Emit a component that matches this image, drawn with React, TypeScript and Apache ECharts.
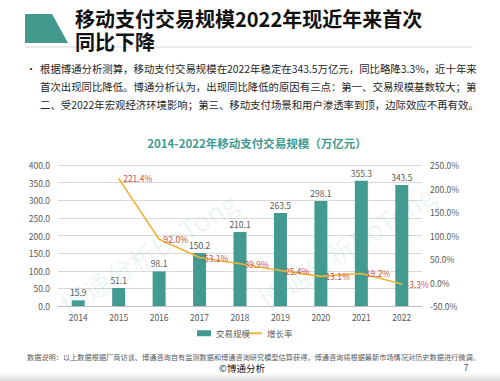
import React, { useEffect, useRef } from 'react';
import * as echarts from 'echarts';

const years = ['2014', '2015', '2016', '2017', '2018', '2019', '2020', '2021', '2022'];
const volume = [15.9, 51.1, 98.1, 150.2, 210.1, 263.5, 298.1, 355.3, 343.5];
const growth: (number | string)[] = ['-', 221.4, 92.0, 53.1, 39.9, 25.4, 13.1, 19.2, -3.3];
const seriesNames = ['交易规模', '增长率'];
const titleLines = ['移动支付交易规模2022年现近年来首次', '同比下降'];
const bulletLines = [
  '根据博通分析测算，移动支付交易规模在2022年稳定在343.5万亿元，同比略降3.3%，近十年来',
  '首次出现同比降低。博通分析认为，出现同比降低的原因有三点：第一、交易规模基数较大；第',
  '二、受2022年宏观经济环境影响；第三、移动支付场景和用户渗透率到顶，边际效应不再有效。',
];
const chartTitle = '2014-2022年移动支付交易规模（万亿元）';
const footnote =
  '数据说明：以上数据根据厂商访谈、博通咨询自有监测数据和博通咨询研究模型估算获得，博通咨询将根据最新市场情况对历史数据进行微调。';
const copyright = '©博通分析';
const pageNo = '7';
const watermark = '博通分析BoTong';

const FONT = '"Noto Sans CJK SC", "Noto Sans", sans-serif';
const TEAL = '#429A90';
const ORANGE = '#F5B335';
const RED = '#C9504B';
const GREY = '#595959';

function txt(text: string, x: number, y: number, size: number, color: string, opts: any = {}) {
  return {
    type: 'text',
    x,
    y,
    rotation: opts.rotation || 0,
    z: opts.z || 10,
    silent: true,
    style: {
      text,
      fill: color,
      fontSize: size,
      fontFamily: FONT,
      fontWeight: opts.bold ? 'bold' : 'normal',
      textAlign: opts.align || 'left',
      align: opts.align || 'left',
      textVerticalAlign: 'middle',
      verticalAlign: 'middle',
      lineHeight: opts.lineHeight || size,
      opacity: opts.opacity ?? 1,
    },
  };
}

export default function App() {
  const ref = useRef<HTMLDivElement>(null);
  useEffect(() => {
    if (!ref.current) return;
    const chart = echarts.init(ref.current, undefined, { renderer: 'svg' });
    const graphics: any[] = [
      {
        type: 'polygon',
        silent: true,
        shape: { points: [[25, 14], [52, 14], [68, 43], [25, 43]] },
        style: { fill: '#44998F' },
      },
      {
        type: 'line',
        silent: true,
        shape: { x1: 25, y1: 47, x2: 473, y2: 47 },
        style: { stroke: '#D9D9D9', lineWidth: 1 },
      },
      txt(titleLines[0], 75, 18, 20, '#111111', { bold: true }),
      txt(titleLines[1], 75, 41, 20, '#111111', { bold: true }),
      txt('•', 26, 68, 10, '#262626'),
      ...bulletLines.map((l, i) => txt(l, 40, 68 + i * 18, 10.4, '#262626')),
      txt(chartTitle, 257, 143, 11.5, '#3F9A8F', { bold: true, align: 'center' }),
      txt(watermark, 148, 253, 27, 'rgba(70,160,150,0.11)', { align: 'center', rotation: (32 * Math.PI) / 180, z: 1 }),
      txt(watermark, 346, 247, 27, 'rgba(70,160,150,0.11)', { align: 'center', rotation: (33 * Math.PI) / 180, z: 1 }),
      txt(footnote, 27, 356.5, 7.2, GREY),
      txt(copyright, 242, 368, 9.5, '#111111', { align: 'center' }),
      txt(pageNo, 466, 367, 9, GREY, { align: 'center' }),
      {
        type: 'rect',
        silent: true,
        shape: { x: 0, y: 373, width: 500, height: 8 },
        style: {
          fill: new echarts.graphic.LinearGradient(0, 0, 0, 1, [
            { offset: 0, color: 'rgba(200,200,200,0)' },
            { offset: 1, color: 'rgba(190,190,190,0.6)' },
          ]),
        },
      },
    ];

    chart.setOption({
      animation: false,
      backgroundColor: '#ffffff',
      textStyle: { fontFamily: FONT },
      grid: { left: 58, right: 78, top: 165, bottom: 75, containLabel: false },
      legend: [
        {
          data: [{ name: seriesNames[0], icon: 'rect' }],
          left: 197,
          top: 329,
          padding: 0,
          itemWidth: 14,
          itemHeight: 6,
          textStyle: { fontSize: 8.5, color: GREY, fontFamily: FONT },
        },
        {
          data: [{ name: seriesNames[1], icon: 'rect' }],
          left: 249,
          top: 329,
          padding: 0,
          itemWidth: 13,
          itemHeight: 2,
          textStyle: { fontSize: 8.5, color: GREY, fontFamily: FONT },
        },
      ],
      xAxis: {
        type: 'category',
        data: years,
        axisTick: { show: false },
        axisLine: { lineStyle: { color: '#BFBFBF' } },
        axisLabel: { color: GREY, fontSize: 8.5, margin: 7 },
      },
      yAxis: [
        {
          type: 'value',
          min: 0,
          max: 400,
          interval: 50,
          axisLine: { show: false },
          axisTick: { show: false },
          splitLine: { lineStyle: { color: '#D9D9D9' } },
          axisLabel: { color: GREY, fontSize: 8.5, margin: 8, formatter: (v: number) => v.toFixed(1) },
        },
        {
          type: 'value',
          min: -50,
          max: 250,
          interval: 50,
          axisLine: { show: false },
          axisTick: { show: false },
          splitLine: { show: false },
          axisLabel: { color: GREY, fontSize: 8.5, margin: 8, formatter: (v: number) => v.toFixed(1) + '%' },
        },
      ],
      series: [
        {
          name: seriesNames[0],
          type: 'bar',
          data: volume,
          barWidth: 13,
          itemStyle: { color: TEAL },
          label: {
            show: true,
            position: 'top',
            distance: 4,
            color: GREY,
            fontSize: 8.5,
            formatter: (p: any) => Number(p.value).toFixed(1),
          },
          z: 2,
        },
        {
          name: seriesNames[1],
          type: 'line',
          yAxisIndex: 1,
          data: growth,
          symbol: 'circle',
          symbolSize: 1,
          showSymbol: true,
          itemStyle: { color: ORANGE },
          lineStyle: { color: ORANGE, width: 1.6 },
          label: {
            show: true,
            position: 'right',
            distance: 4,
            color: RED,
            fontSize: 8.5,
            formatter: (p: any) => Number(p.value).toFixed(1) + '%',
          },
          z: 3,
        },
      ],
      graphic: graphics,
    });
    return () => chart.dispose();
  }, []);
  return (
    <div
      ref={ref}
      style={{ position: 'absolute', left: 0, top: 0, width: 500, height: 381, background: '#fff' }}
    />
  );
}
